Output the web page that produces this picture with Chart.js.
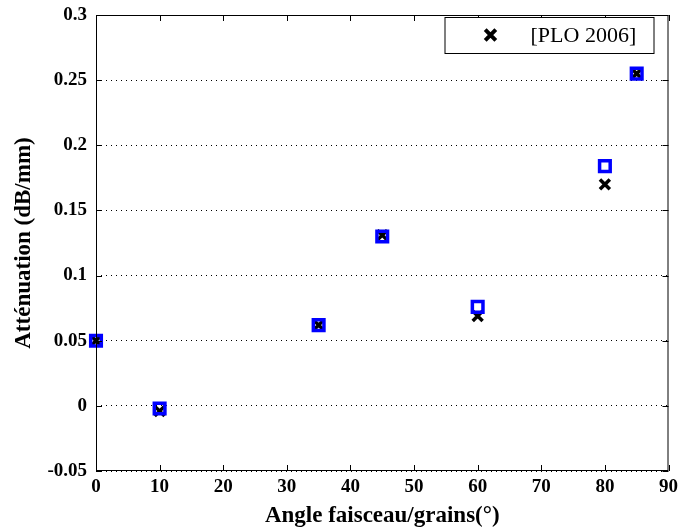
<!DOCTYPE html>
<html>
<head>
<meta charset="utf-8">
<script src="https://cdn.jsdelivr.net/npm/chart.js@4.4.0/dist/chart.umd.min.js"></script>
<style>
  html, body { margin: 0; padding: 0; background: #fff; }
  #wrap { width: 683px; height: 530px; }
</style>
</head>
<body>
<div id="wrap"><canvas id="chart" width="683" height="530"></canvas></div>
<script>
// angles (degrees) and attenuation values
const angles = [0, 10, 35, 45, 60, 80, 85];
const attenPLO = [0.050, -0.004, 0.062, 0.131, 0.069, 0.170, 0.255];   // black crosses
const attenModel = [0.050, -0.002, 0.062, 0.130, 0.076, 0.184, 0.255]; // blue squares

const xTicks = [0, 10, 20, 30, 40, 50, 60, 70, 80, 90];
const yTicks = [-0.05, 0, 0.05, 0.1, 0.15, 0.2, 0.25, 0.3];
const yTickLabels = ['-0.05', '0', '0.05', '0.1', '0.15', '0.2', '0.25', '0.3'];

const legendLabel = '[PLO 2006]';
const xTitle = 'Angle faisceau/grains(\u00B0)';
const yTitle = 'Att\u00E9nuation (dB/mm)';

const serif = '"Liberation Serif", "Times New Roman", serif';

function toPoints(xs, ys) {
  return xs.map((x, i) => ({ x: x, y: ys[i] }));
}

// MATLAB-like box with inward tick marks
const boxPlugin = {
  id: 'box',
  afterDatasetsDraw(chart) {
    const ctx = chart.ctx;
    const a = chart.chartArea;
    const xs = chart.scales.x, ys = chart.scales.y;
    ctx.save();
    ctx.strokeStyle = '#000';
    ctx.lineWidth = 1;
    ctx.strokeRect(a.left + 0.5, a.top + 0.5, a.right - a.left - 1, a.bottom - a.top - 1);
    ctx.beginPath();
    xTicks.forEach(v => {
      const px = Math.round(xs.getPixelForValue(v)) + 0.5;
      ctx.moveTo(px, a.bottom); ctx.lineTo(px, a.bottom - 6);
      ctx.moveTo(px, a.top); ctx.lineTo(px, a.top + 6);
    });
    yTicks.forEach(v => {
      const py = Math.round(ys.getPixelForValue(v)) + 0.5;
      ctx.moveTo(a.left, py); ctx.lineTo(a.left + 6, py);
      ctx.moveTo(a.right, py); ctx.lineTo(a.right - 6, py);
    });
    ctx.stroke();
    ctx.restore();
  }
};

// boxed legend inside the plot, top right
const legendPlugin = {
  id: 'boxLegend',
  afterDraw(chart) {
    const ctx = chart.ctx;
    const a = chart.chartArea;
    const w = 209, h = 36;
    const left = a.right - 15 - w, top = a.top + 2;
    ctx.save();
    ctx.fillStyle = '#fff';
    ctx.fillRect(left, top, w, h);
    ctx.strokeStyle = '#000';
    ctx.lineWidth = 1;
    ctx.strokeRect(left + 0.5, top + 0.5, w, h);
    ctx.strokeStyle = '#000';
    ctx.lineWidth = 4;
    Chart.helpers.drawPoint(ctx, { pointStyle: 'crossRot', radius: 7.5, borderWidth: 4 }, left + 46, top + h / 2);
    ctx.fillStyle = '#000';
    ctx.font = '22px ' + serif;
    ctx.textBaseline = 'middle';
    ctx.fillText(legendLabel, left + 86, top + h / 2 + 1);
    ctx.restore();
  }
};

new Chart(document.getElementById('chart'), {
  type: 'scatter',
  data: {
    datasets: [
      {
        label: 'model',
        data: toPoints(angles, attenModel),
        pointStyle: 'rect',
        pointRadius: 7.5,
        pointHoverRadius: 7.5,
        borderColor: '#0000ff',
        backgroundColor: 'rgba(0,0,0,0)',
        borderWidth: 3.5,
        clip: false
      },
      {
        label: legendLabel,
        data: toPoints(angles, attenPLO),
        pointStyle: 'crossRot',
        pointRadius: 7,
        pointHoverRadius: 7,
        borderColor: '#000',
        backgroundColor: '#000',
        borderWidth: 3.5,
        clip: false
      }
    ]
  },
  options: {
    responsive: false,
    animation: false,
    layout: { padding: { left: 0, top: 15, right: 11, bottom: 0 } },
    plugins: {
      legend: { display: false },
      tooltip: { enabled: false }
    },
    scales: {
      x: {
        type: 'linear',
        min: 0,
        max: 90,
        afterBuildTicks: s => { s.ticks = xTicks.map(v => ({ value: v })); },
        afterFit: s => { s.height = 59; },
        grid: { display: false, drawTicks: false },
        border: { display: false },
        ticks: {
          color: '#000',
          padding: 5,
          maxRotation: 0,
          font: { family: serif, size: 19, weight: 'bold' }
        },
        title: {
          display: true,
          text: xTitle,
          color: '#000',
          padding: { top: 0, bottom: 0 },
          font: { family: serif, size: 23, weight: 'bold' }
        }
      },
      y: {
        type: 'linear',
        min: -0.05,
        max: 0.3,
        afterBuildTicks: s => { s.ticks = yTicks.map(v => ({ value: v })); },
        afterFit: s => { s.width = 96; s.paddingTop = 0; s.paddingBottom = 0; },
        grid: {
          color: '#000',
          lineWidth: 1,
          drawTicks: false
        },
        border: { display: false, dash: [1, 4] },
        ticks: {
          color: '#000',
          padding: 9,
          font: { family: serif, size: 19, weight: 'bold' },
          callback: (v, i) => yTickLabels[i]
        },
        title: {
          display: true,
          text: yTitle,
          color: '#000',
          padding: { top: 10, bottom: 0 },
          font: { family: serif, size: 23, weight: 'bold' }
        }
      }
    }
  },
  plugins: [boxPlugin, legendPlugin]
});
</script>
</body>
</html>
